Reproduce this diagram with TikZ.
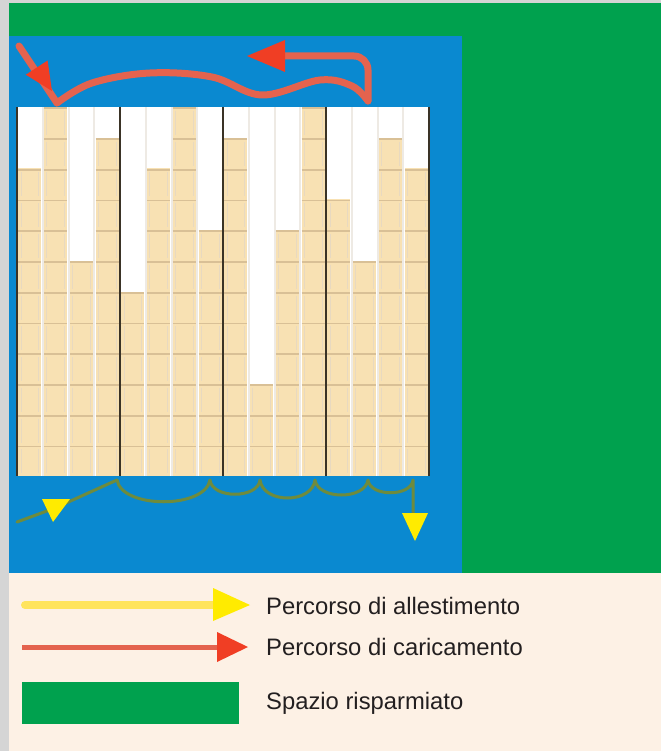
\documentclass[tikz,border=0pt]{standalone}
\usepackage{fontspec}
\setmainfont{Liberation Sans}
\definecolor{grayc}{HTML}{D5D5D5}
\definecolor{greenc}{HTML}{00A14E}
\definecolor{bluec}{HTML}{0A89D0}
\definecolor{legc}{HTML}{FDF1E5}
\definecolor{cellc}{HTML}{F8E1B3}
\definecolor{cellline}{HTML}{D9C096}
\definecolor{gapc}{HTML}{EEEAE4}
\definecolor{divc}{HTML}{3A3326}
\definecolor{redc}{HTML}{E4634E}
\definecolor{redhead}{HTML}{F03E24}
\definecolor{olivec}{HTML}{6E8B3D}
\definecolor{yelc}{HTML}{FFEB00}
\definecolor{yelline}{HTML}{FFE45C}
\definecolor{textc}{HTML}{231F20}
\begin{document}
\begin{tikzpicture}[x=1pt,y=-1pt,
  redline/.style={draw=redc, line width=7pt, line cap=round, line join=round},
  greenline/.style={draw=olivec, line width=3pt, line cap=round, line join=round},
  legtext/.style={anchor=west, inner sep=0pt, text=textc, font=\fontsize{23.8}{28}\selectfont},
  divider/.style={draw=divc, line width=2pt}]
\useasboundingbox (0,0) rectangle (661,751);
% backgrounds
\fill[grayc] (0,0) rectangle (661,751);
\fill[greenc] (9,3) rectangle (661,573);
\fill[bluec] (9,36) rectangle (462,573);
\fill[legc] (9,573) rectangle (661,751);
% rack
\fill[white] (17,107) rectangle (429,476);
\foreach \x in {17,120,223,326}{
  \foreach \k in {1,2,3}{
    \fill[gapc] (\x+\k*25.75-1,107) rectangle (\x+\k*25.75+1,476);
  }
}
\foreach \h [count=\i from 0] in {10,12,7,11,6,10,12,8,11,3,8,12,9,7,11,10}{
  \pgfmathsetmacro{\xa}{17+int(\i/4)*103+mod(\i,4)*25.75}
  \foreach \j in {1,...,\h}{
    \pgfmathsetmacro{\yt}{476-\j*30.75}
    \fill[cellc] (\xa+1.3,\yt) rectangle (\xa+24.45,\yt+30.75);
    \draw[cellline, line width=1.8pt] (\xa+1.3,\yt+1.2) -- (\xa+24.45,\yt+1.2);
    \draw[cellline!60, line width=0.6pt] (\xa+4,\yt+4) -- (\xa+4,\yt+28) (\xa+21.7,\yt+4) -- (\xa+21.7,\yt+28);
  }
}
\foreach \x in {17,120,223,326,429}{
  \draw[divider] (\x,107) -- (\x,476);
}
% loading path (red)
\coordinate (r0) at (19,46);
\coordinate (r1) at (57,103);
\coordinate (r2) at (368,101);
\coordinate (r3) at (368,56);
\coordinate (r4) at (283,56);
\draw[redline] plot[smooth, tension=0.6] coordinates {(57,103) (92,83) (150,73) (212,77) (262,95) (320,80) (352,86) (368,101)};
\draw[redline, rounded corners=14pt] (r2) -- (r3) -- (r4);
\fill[redhead] (247,56) -- (285,40) -- (285,72) -- cycle;
\draw[redline] (r0) -- (r1);
\fill[redhead] (52,91) -- (47.6,60.5) -- (25.8,74.7) -- cycle;
% picking path (olive)
\coordinate (g0) at (17,522);
\coordinate (g1) at (117,480);
\coordinate (g2) at (413,480);
\coordinate (g3) at (413,515);
\draw[greenline] (g0) -- (55,508) -- (g1)
  .. controls (122,509) and (205,509) .. (210,480)
  .. controls (212,499) and (258,499) .. (260,480)
  .. controls (263,504) and (312,504) .. (315,480)
  .. controls (318,500) and (365,500) .. (368,480)
  .. controls (370,497) and (411,497) .. (g2) -- (g3);
\fill[yelc] (42,499) -- (70,499) -- (53,522) -- cycle;
\fill[yelc] (402,513) -- (428,513) -- (415,541) -- cycle;
% legend
\coordinate (ya) at (25,605);
\coordinate (yb) at (215,605);
\draw[yelline, line width=8pt, line cap=round] (ya) -- (yb);
\fill[yelc] (250,605) -- (213,588) -- (213,621) -- cycle;
\coordinate (ra) at (22,647);
\coordinate (rb) at (219,647);
\draw[redc, line width=5pt] (ra) -- (rb);
\fill[redhead] (248,647) -- (217,632) -- (217,662) -- cycle;
\fill[greenc] (22,682) rectangle (239,724);
\node[legtext] (t1) at (266,606) {Percorso di allestimento};
\node[legtext] (t2) at (266,647) {Percorso di caricamento};
\node[legtext] (t3) at (266,703) {Spazio risparmiato};
\end{tikzpicture}
\end{document}
